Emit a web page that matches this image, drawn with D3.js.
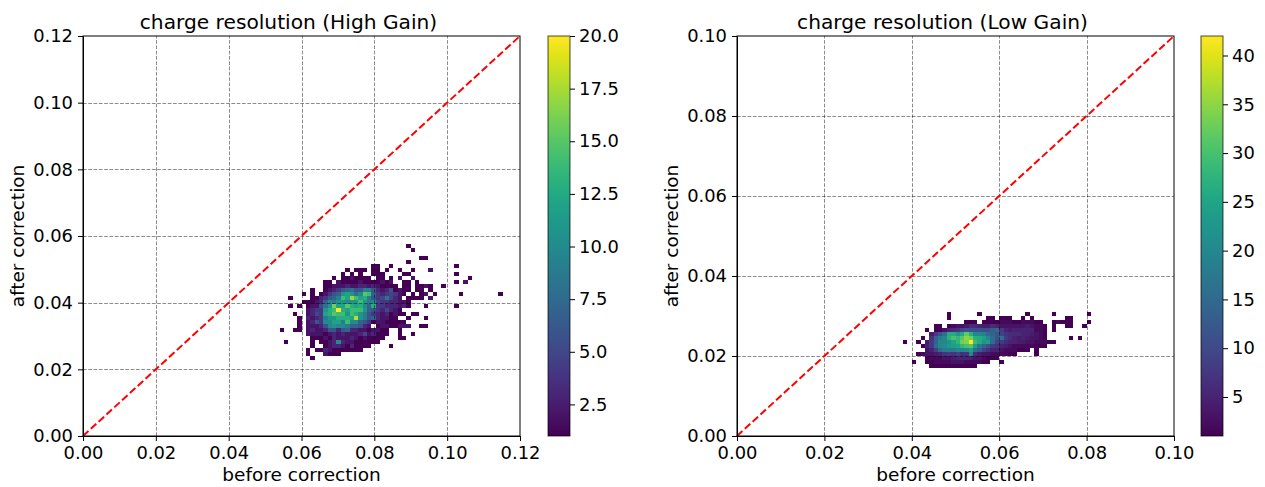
<!DOCTYPE html>
<html>
<head>
<meta charset="utf-8">
<script src="https://cdn.jsdelivr.net/npm/d3@7"></script>
<style>
  html, body { margin: 0; background: #fff; }
  svg { display: block; }
  text { font-family: "DejaVu Sans", sans-serif; fill: #000; }
</style>
</head>
<body>
<div id="container"></div>
<script>
// 2d histogram counts, { row: { column: count } }, 100 x 100 bins on each panel
var highGainRows = {
  47: {74:1},
  46: {75:1},
  44: {77:1,78:1},
  43: {74:1},
  42: {66:1,67:1,70:1,85:1},
  41: {60:1,62:1,63:1,64:1,66:1,67:1,69:1,72:1,75:1,79:2},
  40: {59:1,61:1,63:1,66:1,67:1,68:1,73:1,74:1,85:1},
  39: {57:1,59:1,60:1,61:2,62:1,63:1,64:1,65:1,67:1,68:1,70:1,72:2,75:2,88:1},
  38: {55:1,56:1,58:2,59:1,60:1,61:1,62:1,63:2,64:1,65:1,66:1,67:1,68:2,69:1,70:2,73:1,74:1,76:1,85:1,87:2},
  37: {55:1,56:1,57:2,58:2,59:2,60:3,61:2,62:2,63:3,64:3,65:2,66:3,67:2,68:1,69:1,70:1,71:1,73:1,74:1,76:1,77:1,78:2,79:1,82:1},
  36: {52:1,55:1,56:2,57:3,58:4,59:6,60:7,61:8,62:6,63:6,64:9,65:9,66:6,67:3,68:2,69:3,70:6,71:1,72:2,73:1,74:1,76:1,77:1,79:1},
  35: {50:1,52:1,54:1,55:2,56:4,57:6,58:7,59:11,60:12,61:11,62:8,63:10,64:15,65:14,66:7,67:4,68:3,69:4,70:5,71:4,72:2,73:1,75:1,77:1,78:2,80:1,86:1,95:1},
  34: {47:1,52:1,53:1,54:3,55:4,56:6,57:7,58:9,59:14,60:12,61:17,62:14,63:12,64:13,65:9,66:6,67:4,68:5,69:8,70:5,71:3,72:2,74:1,75:1,76:1,77:1,79:2},
  33: {50:1,51:1,52:1,53:2,54:3,55:7,56:10,57:9,58:11,59:11,60:10,61:11,62:11,63:14,64:11,65:9,66:10,67:5,68:4,69:4,70:3,71:3,72:2,73:2,74:1},
  32: {47:1,49:1,51:1,52:2,53:2,54:5,55:8,56:11,57:16,58:12,59:12,60:15,61:13,62:12,63:13,64:10,65:7,66:13,67:4,68:4,69:3,70:3,71:3,72:2,73:3,74:1,78:1,85:1},
  31: {51:2,52:3,53:4,54:4,55:11,56:13,57:14,58:20,59:13,60:12,61:14,62:14,63:14,64:11,65:7,66:6,67:4,68:3,69:5,70:3,71:2,72:1},
  30: {48:1,51:2,52:3,53:5,54:4,55:12,56:13,57:15,58:14,59:14,60:11,61:14,62:13,63:11,64:9,65:6,66:4,67:3,68:2,69:3,70:1,71:2,72:1,73:1,75:1,76:1},
  29: {49:1,51:3,52:2,53:3,54:4,55:9,56:11,57:11,58:13,59:13,60:13,61:12,62:18,63:11,64:9,65:6,66:7,67:3,68:2,69:2,70:1,71:1,74:1,78:1},
  28: {49:1,51:2,52:3,53:6,54:4,55:10,56:10,57:12,58:12,59:9,60:14,61:10,62:10,63:7,64:6,65:4,66:1,67:2,68:2,69:1,70:1,71:1,72:1,73:1},
  27: {49:1,51:2,52:2,53:2,54:3,55:6,56:10,57:11,58:10,59:10,60:9,61:7,62:7,63:6,64:3,65:2,67:1,68:2,69:2,70:1,71:1,72:2,73:2,74:2,77:1,78:1},
  26: {45:1,48:1,49:1,51:2,52:3,53:2,54:2,55:3,56:6,57:6,58:3,59:6,60:7,61:3,62:3,63:2,64:2,65:1,66:2,67:2,68:1,69:1,72:1},
  25: {51:2,52:2,53:2,54:2,55:1,56:2,57:3,58:2,59:3,60:2,61:2,62:2,63:3,64:5,65:2,66:3,67:1,68:1,69:1,72:1,75:1},
  24: {52:1,53:1,54:1,55:2,56:1,57:3,58:2,59:2,60:2,61:3,62:2,63:1,64:2,65:1,66:1,67:1,68:1,72:1,73:1},
  23: {46:1,52:1,54:1,55:1,56:2,57:3,58:10,59:3,60:2,61:2,62:1,63:1,64:1,65:1,66:1,67:1},
  22: {52:1,55:1,56:2,57:3,58:3,59:2,60:1,61:3,62:1,63:1,64:1,65:1,70:1},
  21: {51:1,53:1,54:1,55:3,56:2,57:1,58:1,59:1,60:1,61:1,62:1,63:1},
  20: {51:1,55:2,56:1,57:1,58:1},
  19: {52:1}
};

var lowGainRows = {
  30: {48:1,55:1,66:1,72:1,80:1},
  29: {48:1,57:1,58:1,60:1,61:1,62:1,65:1,67:1,75:1,76:1},
  28: {52:1,53:1,54:1,56:1,57:1,58:1,59:1,60:2,61:2,62:2,63:1,64:1,65:2,66:2,67:2,68:1,69:1,72:1,73:2,74:1,75:1,76:1,80:1},
  27: {45:1,46:1,48:1,49:2,50:3,51:3,52:4,53:6,54:6,55:5,56:4,57:4,58:6,59:5,60:3,61:3,62:3,63:3,64:3,65:3,66:4,67:3,68:2,69:2,70:1,72:1,75:1,76:1,79:1},
  26: {43:1,45:1,46:1,47:3,48:5,49:6,50:7,51:10,52:11,53:11,54:11,55:11,56:11,57:11,58:13,59:15,60:8,61:5,62:4,63:5,64:5,65:5,66:5,67:5,68:2,69:2,70:1,72:1},
  25: {44:4,45:8,46:12,47:16,48:26,49:26,50:22,51:26,52:32,53:27,54:20,55:20,56:19,57:15,58:14,59:12,60:9,61:7,62:6,63:6,64:6,65:5,66:5,67:4,68:3,69:2,70:1},
  24: {42:1,44:7,45:14,46:18,47:20,48:27,49:30,50:28,51:31,52:35,53:33,54:27,55:26,56:24,57:20,58:15,59:11,60:16,61:8,62:6,63:5,64:4,65:5,66:4,67:3,68:3,69:2,70:1,76:1,78:1},
  23: {38:1,41:1,43:4,44:8,45:14,46:20,47:20,48:22,49:25,50:28,51:33,52:34,53:42,54:29,55:26,56:22,57:24,58:15,59:9,60:8,61:6,62:5,63:5,64:4,65:4,66:3,67:3,68:2,69:2,70:2,71:1,72:1},
  22: {42:1,43:5,44:8,45:15,46:20,47:21,48:23,49:24,50:25,51:28,52:30,53:31,54:24,55:17,56:14,57:11,58:8,59:7,60:5,61:4,62:3,63:2,64:2,65:2,66:2,67:2,68:1,69:1,70:1},
  21: {43:3,44:5,45:9,46:15,47:18,48:18,49:18,50:20,51:20,52:21,53:24,54:16,55:13,56:9,57:7,58:5,59:5,60:3,61:2,62:2,63:2,64:1,65:1,66:1,68:1},
  20: {41:1,42:2,43:3,44:3,45:4,46:5,47:7,48:8,49:7,50:9,51:6,52:7,53:20,54:6,55:4,56:3,57:3,58:2,59:2,60:2,61:2,62:1,63:1,68:1},
  19: {43:1,44:2,45:2,46:2,47:3,48:3,49:4,50:5,51:5,52:5,53:5,54:3,55:3,56:2,57:1,58:1,59:1},
  18: {40:1,43:1,44:1,45:2,46:2,47:2,48:2,49:3,50:3,51:3,52:2,53:2,54:2,55:2,56:1,57:1,60:1},
  17: {44:1,45:1,46:1,47:1,48:1,49:1,50:1,51:1,52:1,53:1,54:1}
};

var highGainTicks = [0, 0.02, 0.04, 0.06, 0.08, 0.1, 0.12];
var lowGainTicks = [0, 0.02, 0.04, 0.06, 0.08, 0.1];
var highGainBarTicks = [2.5, 5, 7.5, 10, 12.5, 15, 17.5, 20];
var lowGainBarTicks = [5, 10, 15, 20, 25, 30, 35, 40];

var w = 1265;
var h = 487;
var plotTop = 36;
var plotBottom = 436;
var plotWidth = 437;
var barWidth = 22;
var nBins = 100;
var tickFont = "17.9px";
var labelFont = "18.5px";

var svg = d3
  .select("#container")
  .append("svg")
  .attr("width", w)
  .attr("height", h);

function cellsFrom(rows) {
  var cells = [];
  Object.keys(rows).forEach((row) => {
    Object.keys(rows[row]).forEach((col) => {
      cells.push({ row: +row, col: +col, count: rows[row][col] });
    });
  });
  return cells;
}

function drawPanel(p) {
  var left = p.left;
  var g = svg.append("g");

  var xScale = d3.scaleLinear().domain([0, p.max]).range([left, left + plotWidth]);
  var yScale = d3.scaleLinear().domain([0, p.max]).range([plotBottom, plotTop]);
  var colorScale = d3
    .scaleSequential(d3.interpolateViridis)
    .domain([1, p.barMax]);
  var binSize = p.max / nBins;

  // histogram cells, empty bins stay white
  g.append("g")
    .selectAll("rect")
    .data(cellsFrom(p.rows))
    .enter()
    .append("rect")
    .attr("x", (d) => xScale(d.col * binSize))
    .attr("y", (d) => yScale((d.row + 1) * binSize))
    .attr("width", (d) => xScale((d.col + 1) * binSize) - xScale(d.col * binSize))
    .attr("height", (d) => yScale(d.row * binSize) - yScale((d.row + 1) * binSize))
    .attr("fill", (d) => colorScale(d.count))
    .attr("shape-rendering", "crispEdges");

  // grid sits over the cells
  var grid = g.append("g")
    .attr("stroke", "#000")
    .attr("stroke-opacity", 0.45)
    .attr("stroke-width", 1)
    .attr("stroke-dasharray", "3.7,1.6");
  p.ticks.slice(1, -1).forEach((t) => {
    grid.append("line")
      .attr("x1", Math.round(xScale(t)) + 0.5).attr("x2", Math.round(xScale(t)) + 0.5)
      .attr("y1", plotBottom).attr("y2", plotTop);
    grid.append("line")
      .attr("x1", left).attr("x2", left + plotWidth)
      .attr("y1", Math.round(yScale(t)) + 0.5).attr("y2", Math.round(yScale(t)) + 0.5);
  });

  // the y = x reference line
  g.append("line")
    .attr("x1", xScale(0)).attr("y1", yScale(0))
    .attr("x2", xScale(p.max)).attr("y2", yScale(p.max))
    .attr("stroke", "#f00")
    .attr("stroke-width", 2)
    .attr("stroke-dasharray", "7.4,3.2");

  // axes
  var xAxis = d3.axisBottom(xScale).tickValues(p.ticks).tickFormat(d3.format(".2f")).tickSize(5).tickPadding(5);
  var yAxis = d3.axisLeft(yScale).tickValues(p.ticks).tickFormat(d3.format(".2f")).tickSize(5).tickPadding(5);
  g.append("g").attr("transform", "translate(0," + plotBottom + ")").call(xAxis);
  g.append("g").attr("transform", "translate(" + left + ",0)").call(yAxis);
  g.selectAll(".tick text").style("font-size", tickFont);
  g.selectAll(".tick line").attr("stroke", "#000");

  // frame
  g.append("rect")
    .attr("x", left).attr("y", plotTop)
    .attr("width", plotWidth).attr("height", plotBottom - plotTop)
    .attr("fill", "none").attr("stroke", "#000").attr("stroke-width", 1);

  // titles
  g.append("text")
    .attr("x", left + plotWidth / 2 - 13).attr("y", 29)
    .attr("text-anchor", "middle")
    .style("font-size", "20.2px")
    .text(p.title);
  g.append("text")
    .attr("x", left + plotWidth / 2).attr("y", 481)
    .attr("text-anchor", "middle")
    .style("font-size", labelFont)
    .text("before correction");
  g.append("text")
    .attr("transform", "translate(" + (left - 59) + "," + (plotTop + plotBottom) / 2 + ") rotate(-90)")
    .attr("text-anchor", "middle")
    .style("font-size", labelFont)
    .text("after correction");

  // colorbar
  var barLeft = left + plotWidth + p.barGap;
  var gradId = "viridis-" + left;
  var grad = svg.append("defs").append("linearGradient")
    .attr("id", gradId)
    .attr("x1", 0).attr("x2", 0).attr("y1", 1).attr("y2", 0);
  d3.range(0, 1.001, 0.05).forEach((t) => {
    grad.append("stop")
      .attr("offset", t)
      .attr("stop-color", d3.interpolateViridis(t));
  });
  var barScale = d3.scaleLinear().domain([1, p.barMax]).range([plotBottom, plotTop]);
  g.append("rect")
    .attr("x", barLeft).attr("y", plotTop)
    .attr("width", barWidth).attr("height", plotBottom - plotTop)
    .attr("fill", "url(#" + gradId + ")")
    .attr("stroke", "#000").attr("stroke-opacity", 0.7).attr("stroke-width", 1);
  var barAxis = d3.axisRight(barScale).tickValues(p.barTicks).tickFormat(d3.format(p.barFormat)).tickSize(5).tickPadding(4);
  var barG = g.append("g").attr("transform", "translate(" + (barLeft + barWidth) + ",0)").call(barAxis);
  barG.select(".domain").remove();
  barG.selectAll("text").style("font-size", tickFont);
}

drawPanel({
  left: 83,
  max: 0.12,
  rows: highGainRows,
  ticks: highGainTicks,
  barMax: 20,
  barTicks: highGainBarTicks,
  barFormat: ".1f",
  barGap: 28,
  title: "charge resolution (High Gain)"
});

drawPanel({
  left: 737,
  max: 0.1,
  rows: lowGainRows,
  ticks: lowGainTicks,
  barMax: 42,
  barTicks: lowGainBarTicks,
  barFormat: "d",
  barGap: 27,
  title: "charge resolution (Low Gain)"
});
</script>
</body>
</html>
